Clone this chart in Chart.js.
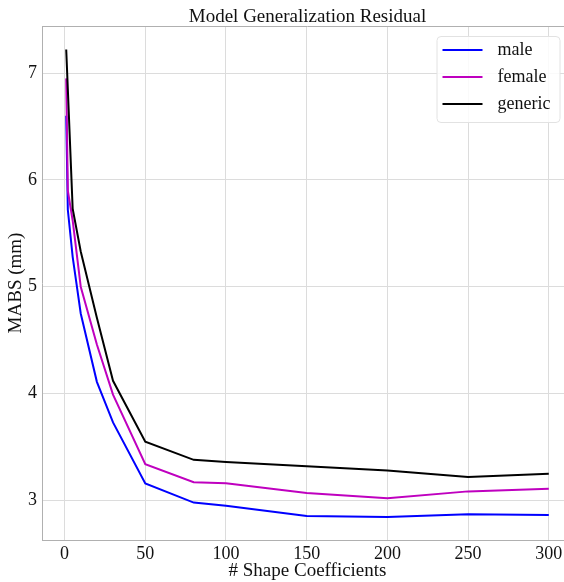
<!DOCTYPE html>
<html>
<head>
<meta charset="utf-8">
<script src="https://cdn.jsdelivr.net/npm/chart.js@4.4.0/dist/chart.umd.min.js"></script>
<style>
  html, body { margin: 0; padding: 0; overflow: hidden; background: #fff; }
</style>
</head>
<body>
<canvas id="residualChart" width="576" height="582"></canvas>
<script>
const shapeCoeffs = [1, 2, 5, 10, 20, 30, 50, 80, 100, 150, 200, 250, 300];
const maleMabs = [6.6, 5.72, 5.28, 4.75, 4.11, 3.73, 3.16, 2.98, 2.95, 2.855, 2.845, 2.87, 2.865];
const femaleMabs = [6.95, 5.9, 5.62, 5.0, 4.46, 3.99, 3.34, 3.17, 3.16, 3.07, 3.02, 3.085, 3.11];
const genericMabs = [7.22, 6.85, 5.73, 5.33, 4.71, 4.12, 3.55, 3.38, 3.36, 3.32, 3.28, 3.22, 3.25];
const xTicks = [0, 50, 100, 150, 200, 250, 300];
const yTicks = [3, 4, 5, 6, 7];

const chartTitle = "Model Generalization Residual";
const serif = "'Liberation Serif', 'Times New Roman', serif";
const gridColor = "#dcdcdc";
const frameColor = "#b0b0b0";

function toPoints(values) {
  return shapeCoeffs.map((x, i) => ({ x: x, y: values[i] }));
}

// title centred on the axes, top frame line and an inset legend
const decorations = {
  id: "decorations",
  afterDraw(chart) {
    const ctx = chart.ctx;
    const area = chart.chartArea;
    ctx.save();

    ctx.strokeStyle = frameColor;
    ctx.lineWidth = 1;
    ctx.beginPath();
    ctx.moveTo(area.left, area.top + 0.5);
    ctx.lineTo(area.right, area.top + 0.5);
    ctx.stroke();

    ctx.fillStyle = "#111";
    ctx.font = "19px " + serif;
    ctx.textAlign = "center";
    ctx.textBaseline = "middle";
    ctx.fillText(chartTitle, (area.left + area.right) / 2, 17);

    const boxRight = area.right - 13.5;
    const boxLeft = boxRight - 123;
    const boxTop = area.top + 10;
    const boxHeight = 86;
    ctx.fillStyle = "rgba(255,255,255,0.85)";
    ctx.strokeStyle = "#e2e2e2";
    ctx.beginPath();
    ctx.roundRect(boxLeft + 0.5, boxTop + 0.5, boxRight - boxLeft, boxHeight, 4);
    ctx.fill();
    ctx.stroke();

    ctx.font = "18px " + serif;
    ctx.textAlign = "left";
    chart.data.datasets.forEach((ds, i) => {
      const y = boxTop + 14 + i * 27;
      ctx.strokeStyle = ds.borderColor;
      ctx.lineWidth = 2;
      ctx.beginPath();
      ctx.moveTo(boxLeft + 6, y);
      ctx.lineTo(boxLeft + 46, y);
      ctx.stroke();
      ctx.fillStyle = "#111";
      ctx.fillText(ds.label, boxLeft + 61, y);
    });
    ctx.restore();
  },
};

new Chart(document.getElementById("residualChart"), {
  type: "line",
  data: {
    datasets: [
      { label: "male", data: toPoints(maleMabs), borderColor: "#0000ff", order: 2 },
      { label: "female", data: toPoints(femaleMabs), borderColor: "#bf00bf", order: 1 },
      { label: "generic", data: toPoints(genericMabs), borderColor: "#000000", order: 0 },
    ],
  },
  options: {
    responsive: false,
    animation: false,
    devicePixelRatio: 1,
    layout: { padding: { top: 26, right: 3, left: 0, bottom: 0 } },
    elements: {
      line: { borderWidth: 2, tension: 0, fill: false },
      point: { radius: 0 },
    },
    plugins: {
      legend: { display: false },
      title: { display: false },
      tooltip: { enabled: false },
    },
    scales: {
      x: {
        type: "linear",
        min: -14,
        max: 315,
        afterBuildTicks: (scale) => {
          scale.ticks = xTicks.map((v) => ({ value: v }));
        },
        afterFit: (scale) => {
          scale.height = 42;
        },
        grid: { color: gridColor, drawTicks: false },
        border: { color: frameColor },
        ticks: {
          autoSkip: false,
          maxRotation: 0,
          padding: 3,
          color: "#111",
          font: { family: serif, size: 18 },
        },
        title: {
          display: true,
          text: "# Shape Coefficients",
          color: "#111",
          font: { family: serif, size: 19 },
          padding: { top: 0, bottom: 0 },
        },
      },
      y: {
        min: 2.63,
        max: 7.44,
        afterBuildTicks: (scale) => {
          scale.ticks = yTicks.map((v) => ({ value: v }));
        },
        afterFit: (scale) => {
          scale.width = 42;
        },
        grid: { color: gridColor, drawTicks: false },
        border: { color: frameColor },
        ticks: {
          autoSkip: false,
          padding: 5,
          color: "#111",
          font: { family: serif, size: 18 },
        },
        title: {
          display: true,
          text: "MABS (mm)",
          color: "#111",
          font: { family: serif, size: 19 },
          padding: { top: 5, bottom: 0 },
        },
      },
    },
  },
  plugins: [decorations],
});
</script>
</body>
</html>
